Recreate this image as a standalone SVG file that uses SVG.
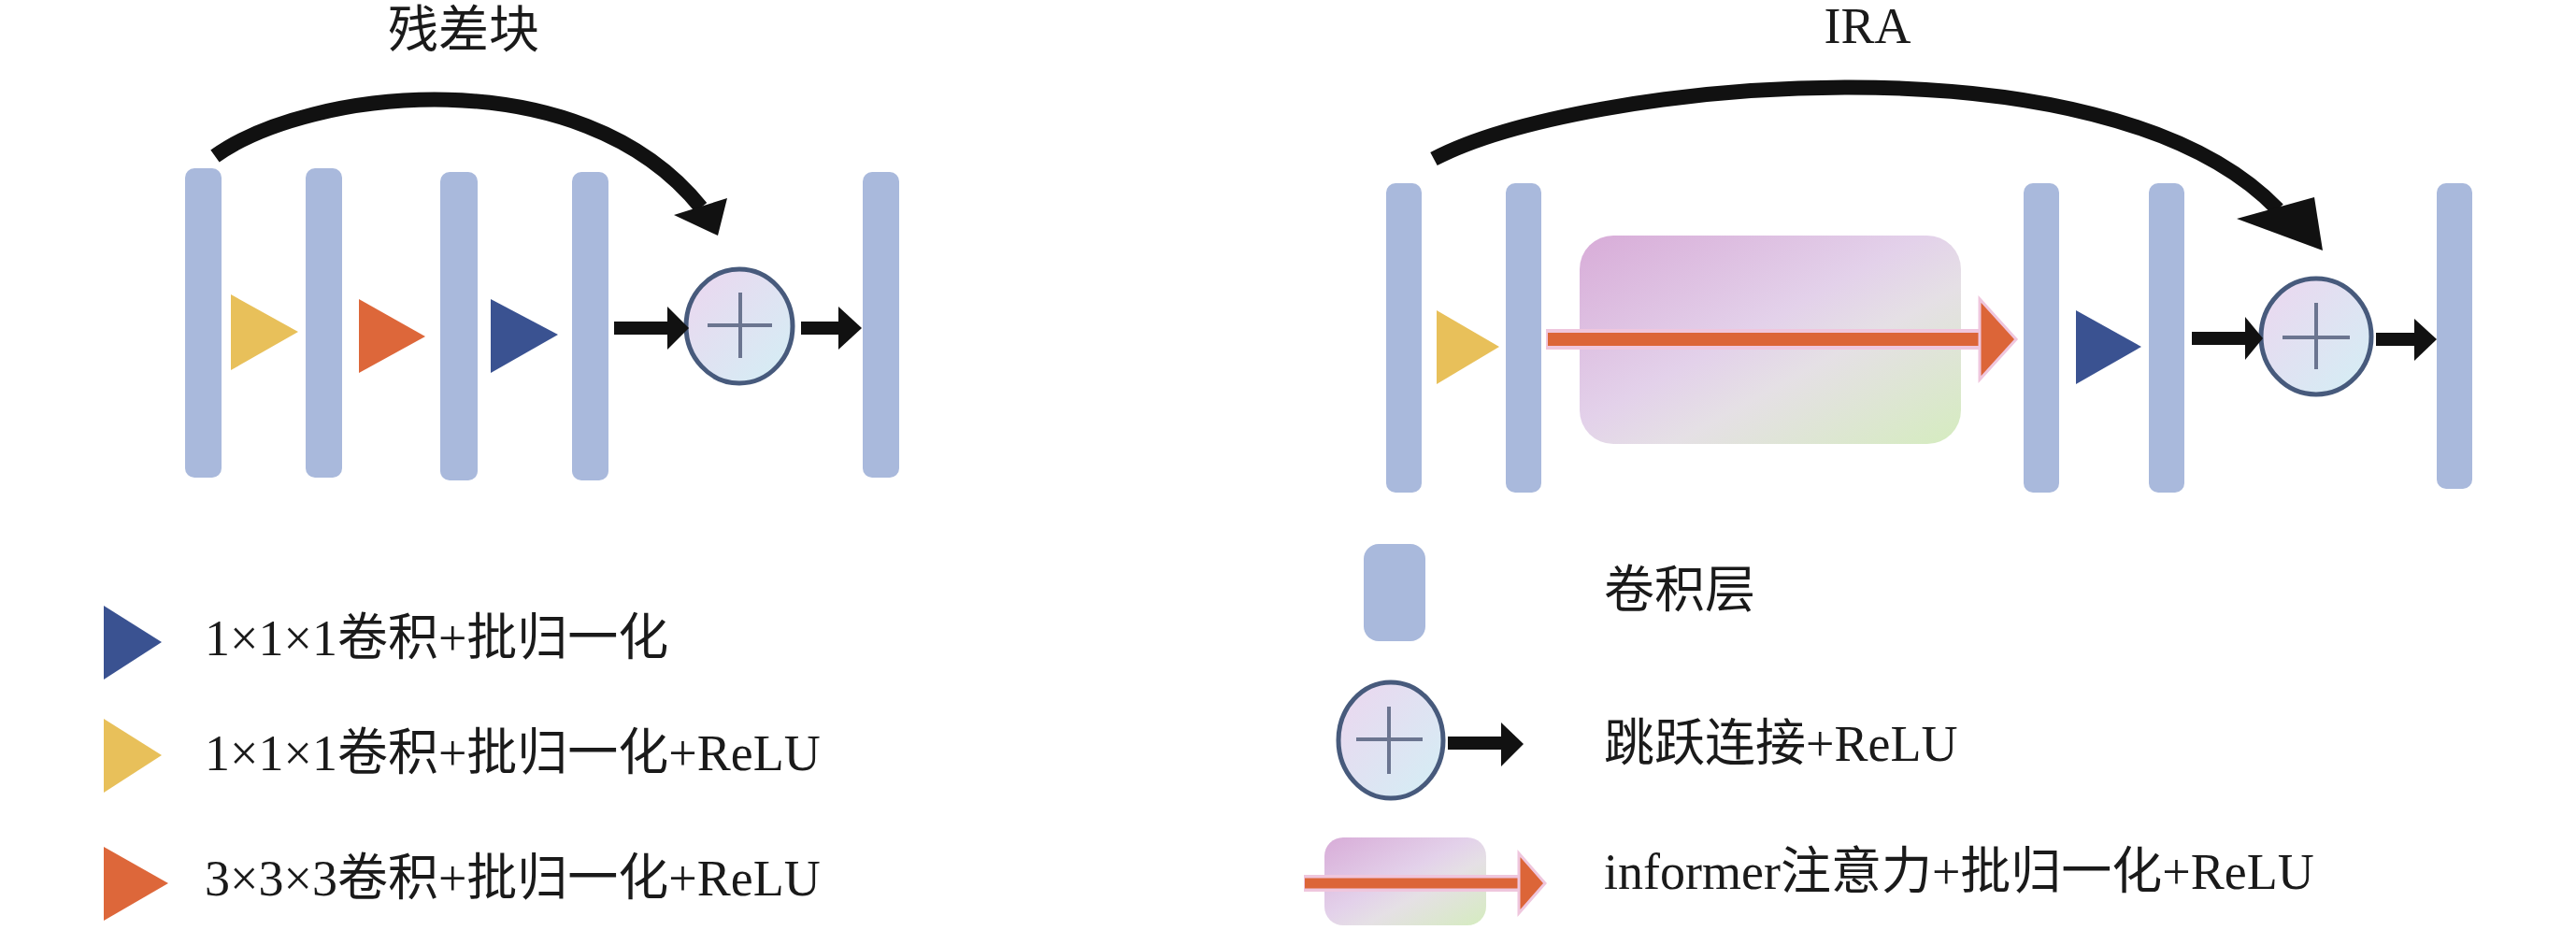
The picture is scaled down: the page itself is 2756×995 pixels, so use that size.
<svg xmlns="http://www.w3.org/2000/svg" width="2756" height="995" viewBox="0 0 2756 995">
<defs>
<linearGradient id="gSum" x1="0" y1="0" x2="1" y2="1">
<stop offset="0" stop-color="#ecd6ef"/>
<stop offset="1" stop-color="#d3eff5"/>
</linearGradient>
<linearGradient id="gAtt" x1="0" y1="0" x2="1" y2="1">
<stop offset="0" stop-color="#d8acd8"/>
<stop offset="0.45" stop-color="#e3d1ea"/>
<stop offset="0.62" stop-color="#e5e0e5"/>
<stop offset="1" stop-color="#d5ecbf"/>
</linearGradient>
<style>
.bar{fill:#a9b9dc}
.t{font-family:"Liberation Serif","Noto Sans CJK SC",serif;font-size:54px;fill:#1a1a1a}
.yel{fill:#e8c05a}
.org{fill:#dd673a}
.blu{fill:#3a5291}
.sum{fill:url(#gSum);stroke:#475a7c;stroke-width:5}
.plus{stroke:#6b7590;stroke-width:4;fill:none}
.att{fill:url(#gAtt)}
.arc{fill:none;stroke:#111;stroke-width:16}
.ln{fill:none;stroke:#111;stroke-width:14}
.ah{fill:#111}
.halo{fill:none;stroke:#efc6dd;stroke-width:22}
.ora{fill:none;stroke:#dc6538;stroke-width:14}
.oah{fill:#dc6538;stroke:#efc6dd;stroke-width:3}
</style>
</defs>
<rect width="2756" height="995" fill="#ffffff"/>

<g id="titles">
<text class="t" x="496" y="51" text-anchor="middle">残差块</text>
<text class="t" x="1998" y="46" text-anchor="middle">IRA</text>
</g>

<!-- Residual block -->
<g id="res-conv1"><rect class="bar" x="198" y="180" width="39" height="331" rx="10"/></g>
<g id="res-conv2"><rect class="bar" x="327" y="180" width="39" height="331" rx="10"/></g>
<g id="res-conv3"><rect class="bar" x="471" y="184" width="40" height="330" rx="10"/></g>
<g id="res-conv4"><rect class="bar" x="612" y="184" width="39" height="330" rx="10"/></g>
<g id="res-conv5"><rect class="bar" x="923" y="184" width="39" height="327" rx="10"/></g>
<g id="res-op1"><polygon class="yel" points="247,315 247,396 319,355"/></g>
<g id="res-op2"><polygon class="org" points="384,320 384,399 455,360"/></g>
<g id="res-op3"><polygon class="blu" points="525,320 525,399 597,358"/></g>
<g id="res-sum">
<ellipse class="sum" cx="791" cy="349" rx="57" ry="61"/>
<path class="plus" d="M757,348 H826 M792,313 V383"/>
</g>

<!-- IRA block -->
<g id="ira-conv1"><rect class="bar" x="1483" y="196" width="38" height="331" rx="10"/></g>
<g id="ira-conv2"><rect class="bar" x="1611" y="196" width="38" height="331" rx="10"/></g>
<g id="ira-conv3"><rect class="bar" x="2165" y="196" width="38" height="331" rx="10"/></g>
<g id="ira-conv4"><rect class="bar" x="2299" y="196" width="38" height="331" rx="10"/></g>
<g id="ira-conv5"><rect class="bar" x="2607" y="196" width="38" height="327" rx="10"/></g>
<g id="ira-op1"><polygon class="yel" points="1537,332 1537,411 1604,371"/></g>
<g id="ira-att"><rect class="att" x="1690" y="252" width="408" height="223" rx="36"/></g>
<g id="ira-op2"><polygon class="blu" points="2221,332 2221,411 2291,371"/></g>
<g id="ira-sum">
<ellipse class="sum" cx="2478" cy="360" rx="59" ry="62"/>
<path class="plus" d="M2442,361 H2514 M2478,324 V395"/>
</g>

<g id="connectors">
<!-- residual block -->
<path class="arc" d="M230,167 C330,95 620,60 750,222"/>
<polygon class="ah" points="721,230 778,212 768,252"/>
<path class="ln" d="M657,351 H718"/>
<polygon class="ah" points="714,328 714,374 737,351"/>
<path class="ln" d="M857,351 H899"/>
<polygon class="ah" points="897,328 897,374 922,351"/>
<!-- IRA -->
<path class="arc" d="M1534,170 C1690,88 2250,30 2437,224"/>
<polygon class="ah" points="2393,234 2476,211 2485,268"/>
<path class="halo" d="M1654,363 H2119"/>
<path class="ora" d="M1656,363 H2119"/>
<polygon class="oah" points="2118,320 2118,406 2157,363"/>
<path class="ln" d="M2345,362 H2406"/>
<polygon class="ah" points="2402,339 2402,385 2421,362"/>
<path class="ln" d="M2542,363 H2586"/>
<polygon class="ah" points="2583,341 2583,386 2607,363"/>
</g>

<!-- legend left -->
<g id="legend-1x1-bn">
<polygon class="blu" points="111,648 111,727 173,687"/>
<text class="t" x="219" y="701">1×1×1卷积+批归一化</text>
</g>
<g id="legend-1x1-bn-relu">
<polygon class="yel" points="111,769 111,848 173,808"/>
<text class="t" x="219" y="824">1×1×1卷积+批归一化+ReLU</text>
</g>
<g id="legend-3x3-bn-relu">
<polygon class="org" points="111,906 111,985 180,945"/>
<text class="t" x="219" y="958">3×3×3卷积+批归一化+ReLU</text>
</g>

<!-- legend right -->
<g id="legend-conv">
<rect class="bar" x="1459" y="582" width="66" height="104" rx="16"/>
<text class="t" x="1716" y="650">卷积层</text>
</g>
<g id="legend-skip">
<ellipse class="sum" cx="1488" cy="792" rx="56" ry="62"/>
<path class="plus" d="M1451,791 H1522 M1486,756 V828"/>
<path class="ln" d="M1549,795 H1609"/>
<polygon class="ah" points="1606,773 1606,820 1630,796"/>
<text class="t" x="1716" y="814">跳跃连接+ReLU</text>
</g>
<g id="legend-att">
<rect class="att" x="1417" y="896" width="173" height="94" rx="20"/>
<path class="halo" d="M1395,945 H1626" style="stroke-width:18"/>
<path class="ora" d="M1396,945 H1626" style="stroke-width:11"/>
<polygon class="oah" points="1625,913 1625,977 1653,945"/>
<text class="t" x="1716" y="951">informer注意力+批归一化+ReLU</text>
</g>
</svg>
